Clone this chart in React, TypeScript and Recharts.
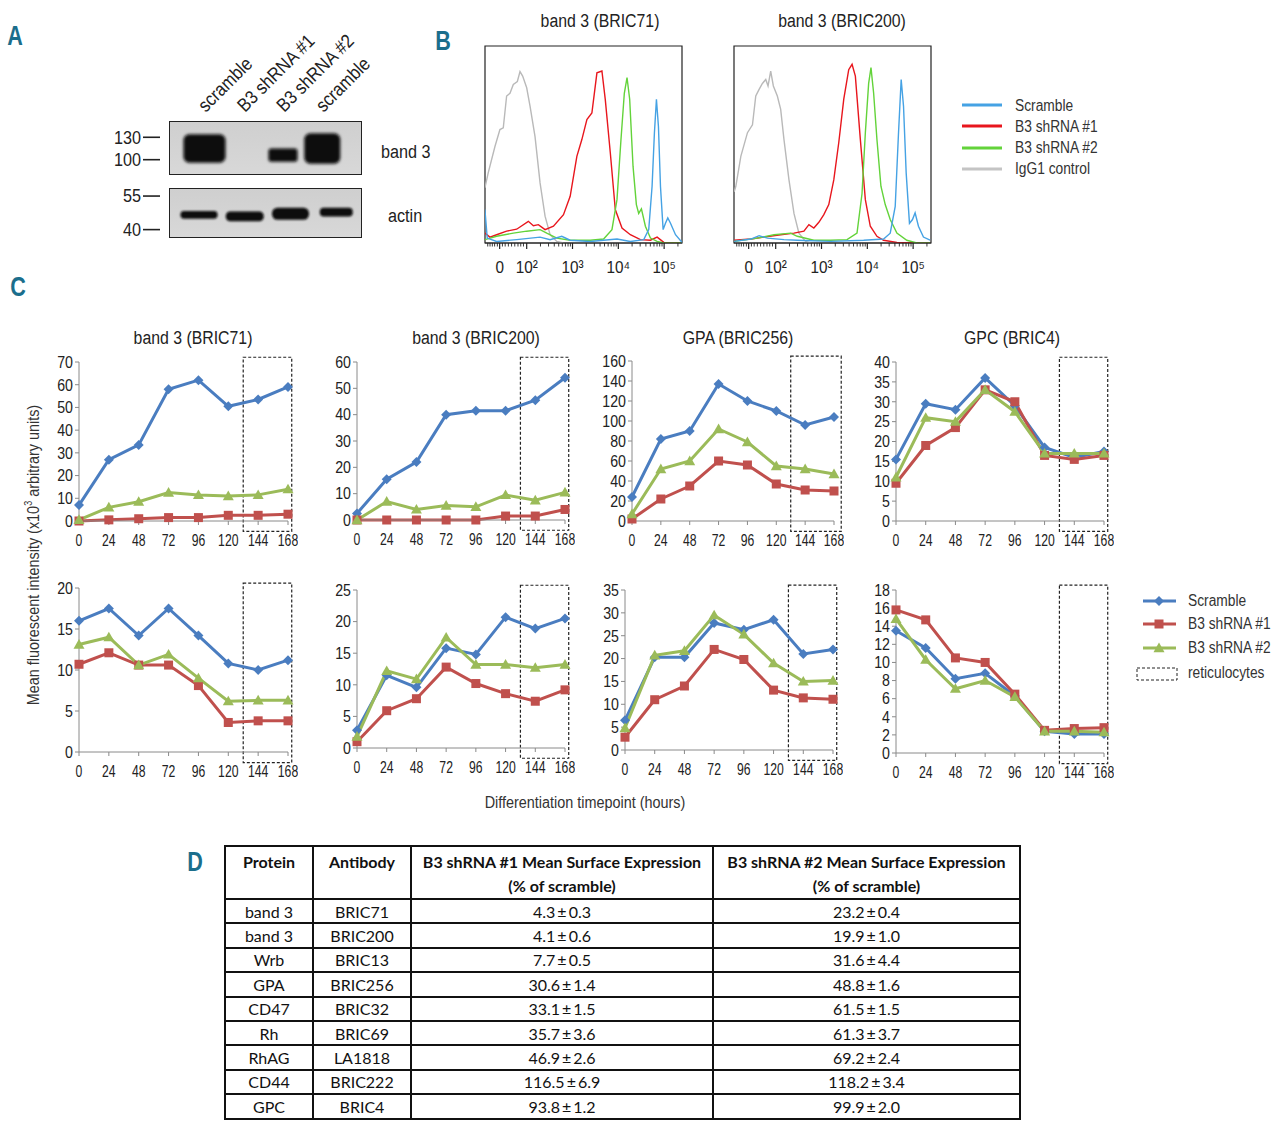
import React from 'react';
import { LineChart, Line, XAxis, YAxis, ReferenceArea, BarChart, Bar } from 'recharts';

const FONT = "'Liberation Sans', Arial, Helvetica, sans-serif";
const TABLE_FONT = "Lato, 'Open Sans', sans-serif";
const TEAL = '#1b6e8c';
const BLUE = '#4a7dc0';
const RED = '#c0504d';
const GREEN = '#9bbb59';
const TEXT = '#222';

// ---------------- Panel A data (western blot) ----------------
const laneKeys = ['l1', 'l2', 'l3', 'l4'];
const laneLabels = ['scramble', 'B3 shRNA #1', 'B3 shRNA #2', 'scramble'];
const band3High = [134.1, null, 115, 135.5];
const band3Low = [95.9, null, 97.3, 94.5];
const actinHigh = [48.3, 48.1, 49.8, 49.8];
const actinLow = [44.9, 43.7, 44.4, 45.9];
const band3Markers = [130, 100];
const actinMarkers = [55, 40];

// ---------------- Panel B data (flow histograms, % of max) ----------------
const b71GrayX = [1.088, 1.16, 1.307, 1.416, 1.489, 1.562, 1.635, 1.708, 1.796, 1.854, 1.912, 2.0, 2.073, 2.182, 2.292, 2.401, 2.511, 2.657, 2.8];
const b71GrayY = [28, 35.6, 49, 57.6, 58.5, 74.6, 76, 80.5, 82, 87, 84.7, 78.8, 69.5, 54, 30.5, 13.6, 4.2, 0.8, 0];
const b71RedX = [1.088, 1.197, 1.343, 1.562, 1.781, 2.036, 2.146, 2.255, 2.401, 2.584, 2.803, 2.949, 3.095, 3.204, 3.314, 3.423, 3.533, 3.642, 3.715, 3.825, 3.934, 4.08, 4.263, 4.482, 4.701, 4.847, 4.993, 5.39];
const b71RedY = [5, 3, 4.2, 6, 7, 11, 8.8, 9.3, 6.8, 8.5, 14.4, 23.7, 44, 52.5, 62.7, 66, 86.4, 87.3, 72.9, 45.8, 17, 7.6, 4.2, 1.7, 1.4, 3, 0.3, 0];
const b71GreenX = [1.088, 1.343, 1.708, 2.0, 2.292, 2.438, 2.657, 2.949, 3.387, 3.679, 3.861, 3.971, 4.058, 4.131, 4.19, 4.248, 4.321, 4.394, 4.445, 4.504, 4.591, 4.701, 4.847, 4.993, 5.39];
const b71GreenY = [1.7, 3.4, 5, 6, 6.8, 5, 2.5, 1.4, 1.4, 2, 6.8, 22, 52.5, 76, 84, 73, 39, 19.5, 15, 17.3, 8.5, 2.5, 0.8, 0, 0];
const b71BlueX = [1.088, 1.139, 1.343, 1.781, 2.292, 2.511, 2.766, 2.949, 3.387, 3.971, 4.263, 4.555, 4.664, 4.737, 4.788, 4.832, 4.876, 4.92, 4.978, 5.029, 5.08, 5.139, 5.248, 5.39];
const b71BlueY = [17, 2.5, 0.8, 1.7, 3, 1.7, 3.4, 1.4, 0.8, 2, 0.8, 1.7, 6.8, 28.8, 56, 73, 59, 28.8, 6.8, 10, 12.7, 10, 4.2, 0.3];

const b200GrayX = [1.094, 1.13, 1.239, 1.384, 1.493, 1.565, 1.638, 1.71, 1.783, 1.833, 1.891, 1.949, 2.036, 2.109, 2.181, 2.29, 2.399, 2.507, 2.652, 2.761];
const b200GrayY = [26, 28.8, 44, 56, 60, 74.6, 78, 81, 83, 79.7, 87.3, 79.7, 74.6, 67.8, 52.5, 32, 15, 5, 0.8, 0];
const b200RedX = [1.094, 1.457, 1.746, 2.109, 2.399, 2.616, 2.725, 2.833, 2.942, 3.051, 3.159, 3.268, 3.377, 3.486, 3.594, 3.667, 3.739, 3.848, 3.957, 4.065, 4.21, 4.355, 4.645, 5.37];
const b200RedY = [1.4, 2, 3, 4.2, 5, 6, 9.3, 7.6, 10.5, 14.4, 19.5, 32, 51, 73, 88, 90.7, 84.7, 52.5, 22, 8.5, 3.4, 1.4, 0.3, 0];
const b200GreenX = [1.094, 1.601, 1.964, 2.326, 2.471, 2.833, 3.196, 3.558, 3.775, 3.884, 3.957, 4.029, 4.08, 4.138, 4.21, 4.297, 4.391, 4.5, 4.645, 4.862, 5.08, 5.37];
const b200GreenY = [0.8, 2.5, 4.2, 5, 3.4, 1.4, 1.4, 1.7, 5, 25, 56, 81, 89, 76, 52.5, 28.8, 19.5, 11.9, 5, 1.4, 0, 0];
const b200BlueX = [1.094, 1.457, 1.638, 1.819, 2.181, 2.471, 3.196, 3.92, 4.355, 4.5, 4.609, 4.681, 4.739, 4.79, 4.848, 4.92, 4.986, 5.043, 5.116, 5.225, 5.37];
const b200BlueY = [0.8, 2, 3.7, 2.5, 1.7, 1.4, 0.8, 1.4, 2, 5, 18.6, 56, 83, 69.5, 35.6, 10, 11.9, 15.3, 8.5, 3, 1.4];

const flowMajorTicks = [1.41, 2, 3, 4, 5];
const flowMajorLabels = ['0', '10²', '10³', '10⁴', '10⁵'];
const flowMinorTicks = [1.15, 1.2, 1.25, 1.3, 1.36, 1.47, 1.53, 1.6, 1.67, 1.74, 1.81, 1.87, 1.93, 2.301, 2.477, 2.602, 2.699, 2.778, 2.845, 2.903, 2.954, 3.301, 3.477, 3.602, 3.699, 3.778, 3.845, 3.903, 3.954, 4.301, 4.477, 4.602, 4.699, 4.778, 4.845, 4.903, 4.954, 5.301];

// ---------------- Panel C data ----------------
const hours = [0, 24, 48, 72, 96, 120, 144, 168];

const b71TopScramble = [7, 27, 33.5, 58, 62, 50.5, 53.5, 59];
const b71TopSh1 = [0, 0.5, 1, 1.5, 1.5, 2.5, 2.5, 3];
const b71TopSh2 = [0.5, 6, 8.5, 12.5, 11.5, 11, 11.5, 14];

const b200TopScramble = [2.5, 15.5, 22, 40, 41.5, 41.5, 45.5, 54];
const b200TopSh1 = [0, 0, 0, 0, 0, 1.5, 1.5, 4];
const b200TopSh2 = [0, 7, 4, 5.5, 5, 9.5, 7.5, 10.5];

const gpaTopScramble = [24, 82, 90, 137, 120, 110, 96, 104];
const gpaTopSh1 = [2, 22, 35, 60, 56, 37, 31, 30];
const gpaTopSh2 = [7, 52, 60, 92, 79, 55, 52, 47];

const gpcTopScramble = [15.5, 29.5, 28, 36, 29, 18.5, 16, 17.5];
const gpcTopSh1 = [9.5, 19, 23.5, 33, 30, 16.5, 15.5, 16.5];
const gpcTopSh2 = [11, 26, 25, 33, 27.5, 17, 17, 17];

const b71BotScramble = [16, 17.5, 14.2, 17.5, 14.2, 10.8, 10, 11.2];
const b71BotSh1 = [10.7, 12.1, 10.6, 10.6, 8.1, 3.6, 3.8, 3.8];
const b71BotSh2 = [13.1, 14, 10.6, 11.9, 9, 6.2, 6.3, 6.3];

const b200BotScramble = [2.8, 11.5, 9.6, 15.8, 14.8, 20.7, 18.9, 20.5];
const b200BotSh1 = [1, 5.9, 7.8, 12.8, 10.2, 8.6, 7.4, 9.2];
const b200BotSh2 = [1.8, 12.2, 10.9, 17.5, 13.2, 13.2, 12.7, 13.2];

const gpaBotScramble = [6.5, 20.3, 20.3, 27.8, 26.3, 28.5, 21, 22];
const gpaBotSh1 = [2.8, 11, 14, 22, 19.8, 13.1, 11.4, 11.1];
const gpaBotSh2 = [4.8, 20.7, 21.7, 29.5, 25.3, 19, 15, 15.2];

const gpcBotScramble = [13.5, 11.6, 8.2, 8.8, 6.3, 2.4, 2.1, 2.1];
const gpcBotSh1 = [15.8, 14.7, 10.5, 10, 6.5, 2.5, 2.7, 2.8];
const gpcBotSh2 = [14.8, 10.3, 7.1, 8, 6.2, 2.4, 2.4, 2.3];

const ticks70 = [0, 10, 20, 30, 40, 50, 60, 70];
const ticks60 = [0, 10, 20, 30, 40, 50, 60];
const ticks160 = [0, 20, 40, 60, 80, 100, 120, 140, 160];
const ticks40 = [0, 5, 10, 15, 20, 25, 30, 35, 40];
const ticks20 = [0, 5, 10, 15, 20];
const ticks25 = [0, 5, 10, 15, 20, 25];
const ticks35 = [0, 5, 10, 15, 20, 25, 30, 35];
const ticks18 = [0, 2, 4, 6, 8, 10, 12, 14, 16, 18];

const reticStart = 132;
const reticEnd = 171;

// ---------------- Panel D data ----------------
const tableProteins = ['band 3', 'band 3', 'Wrb', 'GPA', 'CD47', 'Rh', 'RhAG', 'CD44', 'GPC'];
const tableAntibodies = ['BRIC71', 'BRIC200', 'BRIC13', 'BRIC256', 'BRIC32', 'BRIC69', 'LA1818', 'BRIC222', 'BRIC4'];
const sh1Mean = [4.3, 4.1, 7.7, 30.6, 33.1, 35.7, 46.9, 116.5, 93.8];
const sh1Err = [0.3, 0.6, 0.5, 1.4, 1.5, 3.6, 2.6, 6.9, 1.2];
const sh2Mean = [23.2, 19.9, 31.6, 48.8, 61.5, 61.3, 69.2, 118.2, 99.9];
const sh2Err = [0.4, 1.0, 4.4, 1.6, 1.5, 3.7, 2.4, 3.4, 2.0];

// ---------------- helpers ----------------
const Txt = ({ x, y, children, size = 16, anchor = 'middle', weight = 400, color = TEXT, family = FONT, sx = 0.86 }: any) => {
  const tx = anchor === 'middle' ? '-50%' : anchor === 'end' ? '-100%' : '0';
  const origin = anchor === 'middle' ? 'center center' : anchor === 'end' ? 'right center' : 'left center';
  return (
    <div style={{ position: 'absolute', left: x, top: y, transform: `translate(${tx}, -50%) scaleX(${sx})`, transformOrigin: origin, fontSize: size, fontFamily: family, fontWeight: weight, color, whiteSpace: 'nowrap', lineHeight: 1 }}>
      {children}
    </div>
  );
};

const diamondPts = (cx: number, cy: number, r: number) => `${cx},${cy - r} ${cx + r},${cy} ${cx},${cy + r} ${cx - r},${cy}`;
const trianglePts = (cx: number, cy: number, r: number) => `${cx},${cy - r} ${cx + r},${cy + r * 0.75} ${cx - r},${cy + r * 0.75}`;

const renderDiamond = (p: any) => (p.cx == null ? <g key={`dd${p.index}`} /> : <polygon key={`dd${p.index}`} points={diamondPts(p.cx, p.cy, 5)} fill={BLUE} />);
const renderSquare = (p: any) => (p.cx == null ? <g key={`ds${p.index}`} /> : <rect key={`ds${p.index}`} x={p.cx - 4.5} y={p.cy - 4.5} width={9} height={9} fill={RED} />);
const renderTriangle = (p: any) => (p.cx == null ? <g key={`dt${p.index}`} /> : <polygon key={`dt${p.index}`} points={trianglePts(p.cx, p.cy, 5.5)} fill={GREEN} />);

const YTick = (p: any) => (
  <text transform={`translate(${p.x},${p.y}) scale(0.86,1)`} textAnchor="end" dy={5.8} fontSize={16.5} fontFamily={FONT} fill={TEXT}>{p.payload.value}</text>
);
const XTick = (p: any) => (
  <text transform={`translate(${p.x},${p.y}) scale(0.74,1)`} textAnchor="middle" dy={16.5} fontSize={16.5} fontFamily={FONT} fill={TEXT}>{p.payload.value}</text>
);

function TimeChart({ L, R, T, B, yMax, yTicks, scramble, sh1, sh2, boxEnd = reticEnd }: any) {
  const data = hours.map((h, i) => ({ h, scramble: scramble[i], sh1: sh1[i], sh2: sh2[i] }));
  const W = R - L + 50;
  const H = B - T + 40;
  return (
    <div style={{ position: 'absolute', left: L - 40, top: T - 10 }}>
      <LineChart width={W} height={H} data={data} margin={{ top: 10, right: 10, bottom: 5, left: 5 }}>
        <XAxis dataKey="h" type="number" domain={[0, 168]} ticks={hours} interval={0} height={25} tickSize={4} tickMargin={5} stroke="#8a8a8a" tick={<XTick />} />
        <YAxis type="number" domain={[0, yMax]} ticks={yTicks} interval={0} width={35} tickSize={4} tickMargin={2} stroke="#8a8a8a" tick={<YTick />} />
        <ReferenceArea x1={reticStart} x2={boxEnd} y1={-0.065 * yMax} y2={1.03 * yMax} ifOverflow="visible" fill="none" fillOpacity={0} stroke="#222" strokeWidth={1.2} strokeDasharray="3 2" />
        <Line type="linear" dataKey="scramble" stroke={BLUE} strokeWidth={3} dot={renderDiamond} activeDot={false} isAnimationActive={false} />
        <Line type="linear" dataKey="sh1" stroke={RED} strokeWidth={3} dot={renderSquare} activeDot={false} isAnimationActive={false} />
        <Line type="linear" dataKey="sh2" stroke={GREEN} strokeWidth={3} dot={renderTriangle} activeDot={false} isAnimationActive={false} />
      </LineChart>
    </div>
  );
}

const FlowTick = (props: any) => {
  const { x, y, payload } = props;
  const mi = flowMajorTicks.indexOf(payload.value);
  if (mi >= 0) {
    return (
      <g>
        <line x1={x} x2={x} y1={y} y2={y + 6} stroke="#222" strokeWidth={1.2} />
        <text transform={`translate(${x},${y + 30}) scale(0.9,1)`} textAnchor="middle" fontSize={17} fontFamily={FONT} fill={TEXT}>{flowMajorLabels[mi]}</text>
      </g>
    );
  }
  return <line x1={x} x2={x} y1={y} y2={y + 3.5} stroke="#222" strokeWidth={0.9} />;
};

const pts = (xs: number[], ys: number[]) => xs.map((v, i) => ({ d: v, p: ys[i] }));

function FlowChart({ left, curves }: any) {
  const allTicks = [...flowMajorTicks, ...flowMinorTicks].sort((a, b) => a - b);
  return (
    <div style={{ position: 'absolute', left: left - 10, top: 41 }}>
      <LineChart width={217} height={247} margin={{ top: 5, right: 10, bottom: 15, left: 10 }}>
        <XAxis dataKey="d" type="number" domain={[1.09, 5.39]} allowDataOverflow ticks={allTicks} interval={0} height={30} tickSize={0} tickMargin={0} tickLine={false} stroke="#222" tick={<FlowTick />} />
        <YAxis type="number" domain={[0, 100]} hide allowDataOverflow />
        <ReferenceArea x1={1.09} x2={5.39} y1={0} y2={100} ifOverflow="visible" fill="#fff" fillOpacity={0} stroke="#222" strokeWidth={1.2} />
        {curves.map((c: any, i: number) => (
          <Line key={i} data={c.data} type="linear" dataKey="p" stroke={c.color} strokeWidth={1.4} dot={false} activeDot={false} isAnimationActive={false} />
        ))}
      </LineChart>
    </div>
  );
}

const LaneTick = (props: any) => {
  const { x, y, payload } = props;
  const idx = laneKeys.indexOf(payload.value);
  return (
    <text transform={`translate(${x + 1},${y - 8}) rotate(-45) scale(0.88,1)`} textAnchor="start" fontSize={19} fontFamily={FONT} fill={TEXT}>
      {laneLabels[idx]}
    </text>
  );
};

const MarkerTick = (props: any) => {
  const { x, y, payload } = props;
  return (
    <g>
      <text transform={`translate(${x - 28},${y}) scale(0.9,1)`} dy={6.3} textAnchor="end" fontSize={18} fontFamily={FONT} fill={TEXT}>{payload.value}</text>
      <line x1={x - 26} x2={x - 9} y1={y} y2={y} stroke="#222" strokeWidth={1.6} />
    </g>
  );
};

const makeBlob = (widths: number[], blur: string, rxDiv: number) => (p: any) => {
  const idx = p.payload ? laneKeys.indexOf(p.payload.lane) : p.index;
  const w = widths[idx];
  if (!w || p.height == null || isNaN(p.height) || p.height === 0) return <g />;
  const cx = p.x + p.width / 2;
  const h = Math.abs(p.height);
  const top = Math.min(p.y, p.y + p.height);
  return <rect x={cx - w / 2} y={top} width={w} height={h} rx={Math.min(w, h) / rxDiv} fill="#0b0b0b" filter={`url(#${blur})`} />;
};

const band3BlobWidths = [42, 0, 29, 36];
const actinBlobWidths = [37, 38, 37, 33];

function Blot({ top, height, high, low, domain, markers, widths, padding, showLanes, blur, rxDiv }: any) {
  const data = laneKeys.map((k, i) => ({ lane: k, range: high[i] == null ? null : [low[i], high[i]] }));
  const axisH = showLanes ? 120 : 0;
  const pad = 14;
  return (
    <div style={{ position: 'absolute', left: 104, top: top - axisH - pad }}>
      <div style={{ position: 'absolute', left: 65, top: axisH + pad, width: 193, height, background: 'linear-gradient(#cfcfcf, #d8d8d8)', border: '1.5px solid #222', boxSizing: 'border-box' }} />
      <BarChart width={363} height={height + axisH + 2 * pad} data={data} margin={{ top: pad, right: 105, bottom: pad, left: 5 }} barCategoryGap={0}>
        <XAxis dataKey="lane" orientation="top" hide={!showLanes} height={axisH} padding={padding} tickSize={0} tickMargin={0} tickLine={false} axisLine={false} interval={0} tick={<LaneTick />} />
        <YAxis type="number" domain={domain} allowDataOverflow ticks={markers} interval={0} width={60} tickSize={0} tickMargin={0} tickLine={false} axisLine={false} tick={<MarkerTick />} />
        <Bar dataKey="range" isAnimationActive={false} shape={makeBlob(widths, blur, rxDiv)} />
      </BarChart>
    </div>
  );
}

function TablePanel() {
  const cell: React.CSSProperties = { border: '2px solid #111', textAlign: 'center', padding: 0, height: 22.4 };
  const head: React.CSSProperties = { border: '2px solid #111', textAlign: 'center', verticalAlign: 'top', padding: '3px 0 0 0', fontWeight: 700, lineHeight: '24px' };
  return (
    <table style={{ position: 'absolute', left: 224, top: 845, width: 795, borderCollapse: 'collapse', fontFamily: TABLE_FONT, fontSize: 16, color: '#111', tableLayout: 'fixed' }}>
      <colgroup>
        <col style={{ width: 88 }} />
        <col style={{ width: 98 }} />
        <col style={{ width: 302 }} />
        <col style={{ width: 307 }} />
      </colgroup>
      <thead>
        <tr style={{ height: 53 }}>
          <th style={head}>Protein</th>
          <th style={head}>Antibody</th>
          <th style={head}>B3 shRNA #1 Mean Surface Expression<br />(% of scramble)</th>
          <th style={head}>B3 shRNA #2 Mean Surface Expression<br />(% of scramble)</th>
        </tr>
      </thead>
      <tbody>
        {tableProteins.map((p, i) => (
          <tr key={i}>
            <td style={cell}>{p}</td>
            <td style={cell}>{tableAntibodies[i]}</td>
            <td style={cell}>{sh1Mean[i].toFixed(1)}{'\u2009±\u2009'}{sh1Err[i].toFixed(1)}</td>
            <td style={cell}>{sh2Mean[i].toFixed(1)}{'\u2009±\u2009'}{sh2Err[i].toFixed(1)}</td>
          </tr>
        ))}
      </tbody>
    </table>
  );
}

export default function App() {
  const flow71 = [
    { color: '#b9b9b9', data: pts(b71GrayX, b71GrayY) },
    { color: '#e8161d', data: pts(b71RedX, b71RedY) },
    { color: '#63d33a', data: pts(b71GreenX, b71GreenY) },
    { color: '#45a2e4', data: pts(b71BlueX, b71BlueY) },
  ];
  const flow200 = [
    { color: '#b9b9b9', data: pts(b200GrayX, b200GrayY) },
    { color: '#e8161d', data: pts(b200RedX, b200RedY) },
    { color: '#63d33a', data: pts(b200GreenX, b200GreenY) },
    { color: '#45a2e4', data: pts(b200BlueX, b200BlueY) },
  ];
  return (
    <div style={{ position: 'absolute', left: 0, top: 0, width: 1280, height: 1131, background: '#fff', overflow: 'hidden', fontFamily: FONT }}>
      <svg width={0} height={0} style={{ position: 'absolute' }}>
        <defs>
          <filter id="blurBig" x="-30%" y="-30%" width="160%" height="160%"><feGaussianBlur stdDeviation="1.8" /></filter>
          <filter id="blurSmall" x="-30%" y="-80%" width="160%" height="260%"><feGaussianBlur stdDeviation="1.2" /></filter>
        </defs>
      </svg>

      {/* Panel letters */}
      <Txt x={15} y={36} size={27} weight={700} color={TEAL} sx={0.8}>A</Txt>
      <Txt x={443} y={41} size={27} weight={700} color={TEAL} sx={0.8}>B</Txt>
      <Txt x={18} y={287} size={27} weight={700} color={TEAL} sx={0.8}>C</Txt>
      <Txt x={195} y={862} size={27} weight={700} color={TEAL} sx={0.8}>D</Txt>

      {/* Panel A */}
      <Blot top={121} height={54} high={band3High} low={band3Low} domain={[79.5, 151.8]} markers={band3Markers} widths={band3BlobWidths} padding={{ left: 16, right: 20 }} showLanes blur="blurBig" rxDiv={5} />
      <Blot top={188} height={50} high={actinHigh} low={actinLow} domain={[36.25, 58.6]} markers={actinMarkers} widths={actinBlobWidths} padding={{ left: 7, right: 3 }} showLanes={false} blur="blurSmall" rxDiv={2.2} />
      <Txt x={381} y={152} size={18} anchor="start" sx={0.9}>band 3</Txt>
      <Txt x={388} y={216} size={18} anchor="start" sx={0.9}>actin</Txt>

      {/* Panel B */}
      <Txt x={600} y={21} size={18} sx={0.88}>band 3 (BRIC71)</Txt>
      <Txt x={842} y={21} size={18} sx={0.88}>band 3 (BRIC200)</Txt>
      <FlowChart left={485} curves={flow71} />
      <FlowChart left={734} curves={flow200} />
      <svg style={{ position: 'absolute', left: 955, top: 95 }} width={60} height={85}>
        <line x1={7} x2={47} y1={10} y2={10} stroke="#45a2e4" strokeWidth={3} />
        <line x1={7} x2={47} y1={31} y2={31} stroke="#e8161d" strokeWidth={3} />
        <line x1={7} x2={47} y1={53} y2={53} stroke="#63d33a" strokeWidth={3} />
        <line x1={7} x2={47} y1={74} y2={74} stroke="#c4c4c4" strokeWidth={3} />
      </svg>
      <Txt x={1015} y={106} size={16} anchor="start" color="#333">Scramble</Txt>
      <Txt x={1015} y={127} size={16} anchor="start" color="#333">B3 shRNA #1</Txt>
      <Txt x={1015} y={148} size={16} anchor="start" color="#333">B3 shRNA #2</Txt>
      <Txt x={1015} y={169} size={16} anchor="start" color="#333">IgG1 control</Txt>

      {/* Panel C titles */}
      <Txt x={193} y={338} size={18} sx={0.88}>band 3 (BRIC71)</Txt>
      <Txt x={476} y={338} size={18} sx={0.88}>band 3 (BRIC200)</Txt>
      <Txt x={738} y={338} size={18} sx={0.88}>GPA (BRIC256)</Txt>
      <Txt x={1012} y={338} size={18} sx={0.88}>GPC (BRIC4)</Txt>

      <TimeChart L={79} R={288} T={362} B={521} yMax={70} yTicks={ticks70} scramble={b71TopScramble} sh1={b71TopSh1} sh2={b71TopSh2} />
      <TimeChart L={357} R={565} T={362} B={520} yMax={60} yTicks={ticks60} scramble={b200TopScramble} sh1={b200TopSh1} sh2={b200TopSh2} />
      <TimeChart L={632} R={834} T={361} B={521} yMax={160} yTicks={ticks160} scramble={gpaTopScramble} sh1={gpaTopSh1} sh2={gpaTopSh2} boxEnd={174} />
      <TimeChart L={896} R={1104} T={362} B={521} yMax={40} yTicks={ticks40} scramble={gpcTopScramble} sh1={gpcTopSh1} sh2={gpcTopSh2} />

      <TimeChart L={79} R={288} T={588} B={752} yMax={20} yTicks={ticks20} scramble={b71BotScramble} sh1={b71BotSh1} sh2={b71BotSh2} />
      <TimeChart L={357} R={565} T={590} B={748} yMax={25} yTicks={ticks25} scramble={b200BotScramble} sh1={b200BotSh1} sh2={b200BotSh2} />
      <TimeChart L={625} R={833} T={590} B={750} yMax={35} yTicks={ticks35} scramble={gpaBotScramble} sh1={gpaBotSh1} sh2={gpaBotSh2} />
      <TimeChart L={896} R={1104} T={590} B={753} yMax={18} yTicks={ticks18} scramble={gpcBotScramble} sh1={gpcBotSh1} sh2={gpcBotSh2} />

      {/* axis titles */}
      <div style={{ position: 'absolute', left: 33, top: 555, transform: 'translate(-50%, -50%) rotate(-90deg) scaleX(0.9)', fontSize: 16, fontFamily: FONT, color: '#333', whiteSpace: 'nowrap', lineHeight: 1 }}>
        Mean fluorescent intensity (x10<sup style={{ fontSize: 10 }}>3</sup> arbitrary units)
      </div>
      <Txt x={585} y={803} size={16} color="#333" sx={0.9}>Differentiation timepoint (hours)</Txt>

      {/* Panel C legend */}
      <svg style={{ position: 'absolute', left: 1130, top: 588 }} width={55} height={100}>
        <line x1={13} x2={46} y1={13} y2={13} stroke={BLUE} strokeWidth={3} />
        <polygon points={diamondPts(29, 13, 5)} fill={BLUE} />
        <line x1={13} x2={46} y1={36} y2={36} stroke={RED} strokeWidth={3} />
        <rect x={24.5} y={31.5} width={9} height={9} fill={RED} />
        <line x1={13} x2={46} y1={60} y2={60} stroke={GREEN} strokeWidth={3} />
        <polygon points={trianglePts(29, 60, 5.5)} fill={GREEN} />
        <rect x={7} y={80} width={40} height={12} fill="none" stroke="#222" strokeWidth={1} strokeDasharray="3 2" />
      </svg>
      <Txt x={1188} y={601} size={16} anchor="start" color="#333">Scramble</Txt>
      <Txt x={1188} y={624} size={16} anchor="start" color="#333">B3 shRNA #1</Txt>
      <Txt x={1188} y={648} size={16} anchor="start" color="#333">B3 shRNA #2</Txt>
      <Txt x={1188} y={673} size={16} anchor="start" color="#333">reticulocytes</Txt>

      {/* Panel D */}
      <TablePanel />
    </div>
  );
}
